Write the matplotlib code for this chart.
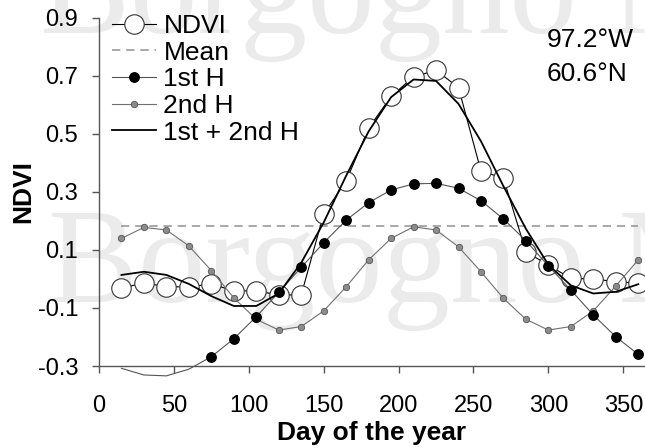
import matplotlib
matplotlib.use("Agg")
import matplotlib.pyplot as plt
import numpy as np

plt.rcParams['font.family'] = ['Liberation Sans', 'DejaVu Sans']

# Day of the year (16-day composite sampling, every 15 days)
days = [15, 30, 45, 60, 75, 90, 105, 120, 135, 150, 165, 180,
        195, 210, 225, 240, 255, 270, 285, 300, 315, 330, 345, 360]

# Observed NDVI
ndvi = [-0.032, -0.013, -0.027, -0.027, -0.017, -0.041, -0.041, -0.055,
        -0.055, 0.224, 0.338, 0.520, 0.630, 0.697, 0.720, 0.660,
        0.372, 0.348, 0.094, 0.048, 0.002, 0.000, -0.009, -0.015]

# First harmonic component
first_h = [-0.308, -0.331, -0.334, -0.311, -0.268, -0.206, -0.130, -0.046,
           0.040, 0.125, 0.203, 0.263, 0.307, 0.328, 0.330, 0.313,
           0.270, 0.207, 0.132, 0.045, -0.038, -0.124, -0.199, -0.260]

# Second harmonic component
second_h = [0.140, 0.178, 0.169, 0.114, 0.029, -0.065, -0.139, -0.176,
            -0.164, -0.110, -0.027, 0.066, 0.140, 0.180, 0.169, 0.111,
            0.025, -0.067, -0.139, -0.176, -0.164, -0.110, -0.024, 0.066]

# Mean + first + second harmonic reconstruction
combined = [0.014, 0.025, 0.014, -0.017, -0.059, -0.093, -0.093, -0.050,
            0.056, 0.195, 0.356, 0.509, 0.627, 0.688, 0.683, 0.604,
            0.475, 0.320, 0.173, 0.049, -0.022, -0.050, -0.044, -0.018]

mean_ndvi = 0.183

x_ticks = [0, 50, 100, 150, 200, 250, 300, 350]
y_ticks = [-0.3, -0.1, 0.1, 0.3, 0.5, 0.7, 0.9]
y_tick_labels = ['-0.3', '-0.1', '0.1', '0.3', '0.5', '0.7', '0.9']

W, H = 645, 448
fig = plt.figure(figsize=(W / 100, H / 100), dpi=100)
ax = fig.add_axes([99 / W, 1 - 366 / H, 1 - 99 / W, (366 - 18) / H])

# faint background lettering, drawn beneath the axes
for xp, yp in [(40, 33), (48, 302)]:
    fig.text(xp / W, 1 - yp / H, 'Borgogno M', family='Liberation Serif',
             fontsize=97, color='#ebebeb', va='baseline', ha='left',
             zorder=-5)

ax.patch.set_alpha(0)

ymin, ymax = -0.3, 0.9
ax.set_xlim(0, 364.5)
ax.set_ylim(ymin, ymax)

ln_ndvi, = ax.plot(days, ndvi, '-o', color='black', lw=0.8, ms=14,
                   mfc='white', mec='#333333', mew=0.8, zorder=2)
ln_mean, = ax.plot([days[0], days[-1]], [mean_ndvi, mean_ndvi], '--',
                   color='#9a9a9a', lw=1.2, dashes=(5, 3.5), zorder=1)

# second harmonic
ln_2h, = ax.plot(days, second_h, '-o', color='#707070', lw=0.8, ms=4.6,
                 mfc='#8c8c8c', mec='#555555', mew=0.6, zorder=3)

# first harmonic: line runs past the lower limit, markers only inside
ax.plot(days, first_h, '-', color='#555555', lw=0.8, zorder=4, clip_on=False)
d_in = [d for d, v in zip(days, first_h) if v >= ymin]
v_in = [v for v in first_h if v >= ymin]
ax.plot(d_in, v_in, 'o', color='black', ms=6.8, zorder=4)
ln_1h, = ax.plot([], [], '-o', color='#555555', lw=0.8, ms=6.8,
                 mfc='black', mec='black')

ln_comb, = ax.plot(days, combined, '-', color='black', lw=1.3, zorder=5)

for side in ['top', 'right']:
    ax.spines[side].set_visible(False)
for side in ['left', 'bottom']:
    ax.spines[side].set_color('#555555')
    ax.spines[side].set_linewidth(1.0)

ax.set_xticks(x_ticks)
ax.set_yticks(y_ticks)
ax.set_yticklabels(y_tick_labels)
ax.tick_params(direction='out', length=5, width=1, color='#555555',
               labelsize=17)
ax.tick_params(axis='x', pad=16)
ax.tick_params(axis='y', pad=10)

ax.set_xlabel('Day of the year', fontsize=19, fontweight='bold')
ax.set_ylabel('NDVI', fontsize=19, fontweight='bold')
ax.xaxis.set_label_coords(0.5, -(440 - 366) / (366 - 18), transform=ax.transAxes)
ax.xaxis.label.set_va('baseline')
ax.yaxis.set_label_coords(23 / W, 0.5 * (1 - 366 / H + 1 - 18 / H),
                          transform=fig.transFigure)
ax.yaxis.label.set_va('center')

leg = ax.legend([ln_ndvi, ln_mean, ln_1h, ln_2h, ln_comb],
                ['NDVI', 'Mean', '1st H', '2nd H', '1st + 2nd H'],
                loc='upper left', bbox_to_anchor=(112 / W, 1 - 14 / H),
                bbox_transform=fig.transFigure, frameon=False, fontsize=19,
                handlelength=1.65, handletextpad=0.3, labelspacing=0.1,
                borderpad=0, borderaxespad=0, numpoints=1)

fig.text(547 / W, 1 - 47 / H, '97.2°W', fontsize=19, va='baseline')
fig.text(547 / W, 1 - 81 / H, '60.6°N', fontsize=19, va='baseline')

fig.savefig('out.png', dpi=100)
